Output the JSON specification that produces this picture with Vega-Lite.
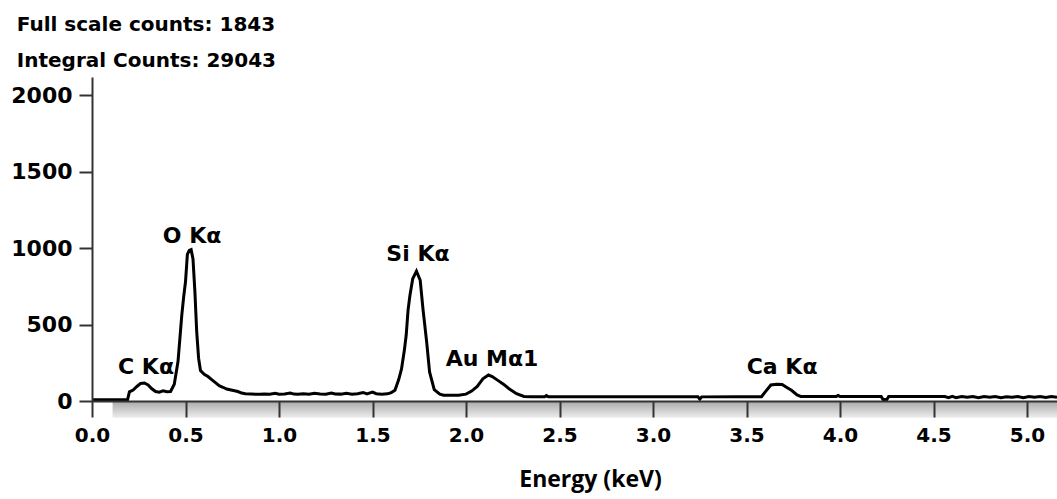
{
  "$schema": "https://vega.github.io/schema/vega-lite/v6.json",
  "autosize": {"type": "none"},
  "padding": {"left": 92, "top": 77, "right": 0, "bottom": 98},
  "width": 965,
  "height": 324,
  "background": "white",
  "config": {"view": {"stroke": null}, "font": "DejaVu Sans"},
  "title": {
    "text": "Full scale counts: 1843",
    "subtitle": "Integral Counts: 29043",
    "anchor": "start",
    "frame": "bounds",
    "font": "DejaVu Sans",
    "subtitleFont": "DejaVu Sans",
    "fontSize": 20,
    "subtitleFontSize": 20,
    "fontWeight": "bold",
    "subtitleFontWeight": "bold",
    "color": "black",
    "subtitleColor": "black",
    "dx": 6,
    "offset": 6,
    "subtitlePadding": 16
  },
  "datasets": {
    "spectrum": [
      {"keV": 0.0, "counts": 8}, {"keV": 0.1, "counts": 8}, {"keV": 0.19, "counts": 8},
      {"keV": 0.2, "counts": 60}, {"keV": 0.22, "counts": 72}, {"keV": 0.24, "counts": 95},
      {"keV": 0.26, "counts": 115}, {"keV": 0.28, "counts": 118}, {"keV": 0.3, "counts": 105},
      {"keV": 0.32, "counts": 80}, {"keV": 0.34, "counts": 62}, {"keV": 0.36, "counts": 58},
      {"keV": 0.38, "counts": 66}, {"keV": 0.4, "counts": 60}, {"keV": 0.42, "counts": 62},
      {"keV": 0.44, "counts": 110}, {"keV": 0.46, "counts": 260}, {"keV": 0.48, "counts": 560},
      {"keV": 0.49, "counts": 680}, {"keV": 0.5, "counts": 780}, {"keV": 0.51, "counts": 960},
      {"keV": 0.52, "counts": 985}, {"keV": 0.53, "counts": 990}, {"keV": 0.54, "counts": 930},
      {"keV": 0.55, "counts": 720}, {"keV": 0.56, "counts": 450}, {"keV": 0.57, "counts": 280},
      {"keV": 0.58, "counts": 200}, {"keV": 0.6, "counts": 175}, {"keV": 0.62, "counts": 160},
      {"keV": 0.64, "counts": 140}, {"keV": 0.66, "counts": 120}, {"keV": 0.68, "counts": 100},
      {"keV": 0.7, "counts": 90}, {"keV": 0.72, "counts": 78}, {"keV": 0.75, "counts": 70},
      {"keV": 0.78, "counts": 62}, {"keV": 0.8, "counts": 52}, {"keV": 0.82, "counts": 48},
      {"keV": 0.85, "counts": 46}, {"keV": 0.88, "counts": 44}, {"keV": 0.9, "counts": 44},
      {"keV": 0.92, "counts": 46}, {"keV": 0.95, "counts": 44}, {"keV": 0.98, "counts": 50},
      {"keV": 1.0, "counts": 44}, {"keV": 1.03, "counts": 46}, {"keV": 1.06, "counts": 52},
      {"keV": 1.08, "counts": 45}, {"keV": 1.1, "counts": 44}, {"keV": 1.13, "counts": 48},
      {"keV": 1.16, "counts": 44}, {"keV": 1.19, "counts": 50}, {"keV": 1.22, "counts": 46},
      {"keV": 1.25, "counts": 44}, {"keV": 1.28, "counts": 52}, {"keV": 1.3, "counts": 46},
      {"keV": 1.33, "counts": 45}, {"keV": 1.36, "counts": 50}, {"keV": 1.39, "counts": 44},
      {"keV": 1.42, "counts": 48}, {"keV": 1.45, "counts": 56}, {"keV": 1.47, "counts": 47},
      {"keV": 1.5, "counts": 58}, {"keV": 1.52, "counts": 48}, {"keV": 1.55, "counts": 45},
      {"keV": 1.58, "counts": 47}, {"keV": 1.6, "counts": 55}, {"keV": 1.62, "counts": 70},
      {"keV": 1.64, "counts": 140}, {"keV": 1.655, "counts": 210}, {"keV": 1.67, "counts": 330},
      {"keV": 1.68, "counts": 430}, {"keV": 1.69, "counts": 595}, {"keV": 1.7, "counts": 690},
      {"keV": 1.715, "counts": 800}, {"keV": 1.735, "counts": 850}, {"keV": 1.755, "counts": 790},
      {"keV": 1.77, "counts": 600}, {"keV": 1.79, "counts": 380}, {"keV": 1.805, "counts": 190},
      {"keV": 1.83, "counts": 75}, {"keV": 1.86, "counts": 45}, {"keV": 1.88, "counts": 38},
      {"keV": 1.92, "counts": 38}, {"keV": 1.96, "counts": 37}, {"keV": 2.0, "counts": 45},
      {"keV": 2.03, "counts": 65}, {"keV": 2.06, "counts": 95}, {"keV": 2.09, "counts": 145},
      {"keV": 2.12, "counts": 170}, {"keV": 2.14, "counts": 160}, {"keV": 2.17, "counts": 135},
      {"keV": 2.2, "counts": 110}, {"keV": 2.23, "counts": 80}, {"keV": 2.27, "counts": 48},
      {"keV": 2.31, "counts": 30}, {"keV": 2.35, "counts": 28}, {"keV": 2.42, "counts": 28},
      {"keV": 2.43, "counts": 36}, {"keV": 2.44, "counts": 28}, {"keV": 2.6, "counts": 27},
      {"keV": 2.8, "counts": 27}, {"keV": 3.0, "counts": 27}, {"keV": 3.24, "counts": 27},
      {"keV": 3.25, "counts": 12}, {"keV": 3.26, "counts": 27}, {"keV": 3.45, "counts": 28},
      {"keV": 3.58, "counts": 28}, {"keV": 3.6, "counts": 60}, {"keV": 3.63, "counts": 105},
      {"keV": 3.66, "counts": 110}, {"keV": 3.69, "counts": 108}, {"keV": 3.72, "counts": 85},
      {"keV": 3.74, "counts": 70}, {"keV": 3.77, "counts": 40}, {"keV": 3.79, "counts": 30},
      {"keV": 3.9, "counts": 30}, {"keV": 3.98, "counts": 30}, {"keV": 3.99, "counts": 36},
      {"keV": 4.0, "counts": 29}, {"keV": 4.22, "counts": 29}, {"keV": 4.23, "counts": 10},
      {"keV": 4.25, "counts": 10}, {"keV": 4.26, "counts": 29}, {"keV": 4.4, "counts": 29},
      {"keV": 4.56, "counts": 29}, {"keV": 4.58, "counts": 22}, {"keV": 4.6, "counts": 30},
      {"keV": 4.62, "counts": 22}, {"keV": 4.65, "counts": 30}, {"keV": 4.68, "counts": 24},
      {"keV": 4.71, "counts": 30}, {"keV": 4.74, "counts": 22}, {"keV": 4.77, "counts": 30},
      {"keV": 4.8, "counts": 24}, {"keV": 4.83, "counts": 30}, {"keV": 4.86, "counts": 22},
      {"keV": 4.89, "counts": 28}, {"keV": 4.92, "counts": 24}, {"keV": 4.95, "counts": 30},
      {"keV": 4.98, "counts": 22}, {"keV": 5.01, "counts": 30}, {"keV": 5.04, "counts": 24},
      {"keV": 5.07, "counts": 30}, {"keV": 5.1, "counts": 23}, {"keV": 5.13, "counts": 29},
      {"keV": 5.16, "counts": 25}
    ],
    "labels": [
      {"label": "C Kα", "keV": 0.289, "counts": 220},
      {"label": "O Kα", "keV": 0.535, "counts": 1078},
      {"label": "Si Kα", "keV": 1.743, "counts": 960},
      {"label": "Au Mα1", "keV": 2.139, "counts": 273},
      {"label": "Ca Kα", "keV": 3.69, "counts": 220}
    ],
    "band": [
      {"x0": 0.11, "x1": 5.16, "y0": 0, "y1": -110}
    ]
  },
  "layer": [
    {
      "data": {"name": "band"},
      "mark": {
        "type": "rect",
        "fill": {
          "gradient": "linear",
          "x1": 0, "y1": 0, "x2": 0, "y2": 1,
          "stops": [
            {"offset": 0, "color": "#a8a8a8"},
            {"offset": 1, "color": "#eeeeee"}
          ]
        }
      },
      "encoding": {
        "x": {"field": "x0", "type": "quantitative"},
        "x2": {"field": "x1"},
        "y": {"field": "y0", "type": "quantitative"},
        "y2": {"field": "y1"}
      }
    },
    {
      "data": {"name": "spectrum"},
      "mark": {"type": "line", "color": "black", "strokeWidth": 3, "strokeJoin": "miter"},
      "encoding": {
        "x": {
          "field": "keV",
          "type": "quantitative",
          "scale": {"domain": [0, 5.16], "nice": false, "zero": false},
          "axis": {
            "title": "Energy (keV)",
            "values": [0, 0.5, 1, 1.5, 2, 2.5, 3, 3.5, 4, 4.5, 5],
            "format": ".1f",
            "grid": false,
            "zindex": 1,
            "domainColor": "#333333",
            "domainWidth": 2,
            "tickColor": "#333333",
            "tickWidth": 2,
            "tickSize": 16,
            "labelPadding": 8,
            "labelFont": "DejaVu Sans",
            "labelFontSize": 20,
            "labelFontWeight": "bold",
            "labelColor": "black",
            "labelFlush": false,
            "labelOverlap": false,
            "titleFont": "Open Sans",
            "titleFontSize": 23,
            "titleFontWeight": "bold",
            "titleColor": "black",
            "titlePadding": 23,
            "titleX": 498
          }
        },
        "y": {
          "field": "counts",
          "type": "quantitative",
          "scale": {"domain": [0, 2120], "nice": false},
          "axis": {
            "title": null,
            "values": [0, 500, 1000, 1500, 2000],
            "format": "d",
            "grid": false,
            "zindex": 1,
            "domainColor": "#333333",
            "domainWidth": 2,
            "tickColor": "#333333",
            "tickWidth": 2,
            "tickSize": 13,
            "labelPadding": 7,
            "labelFont": "DejaVu Sans",
            "labelFontSize": 22,
            "labelFontWeight": "bold",
            "labelColor": "black",
            "labelFlush": false,
            "labelOverlap": false
          }
        }
      }
    },
    {
      "data": {"name": "labels"},
      "mark": {"type": "text", "font": "DejaVu Sans", "fontSize": 22, "fontWeight": "bold", "color": "black", "baseline": "middle", "align": "center"},
      "encoding": {
        "x": {"field": "keV", "type": "quantitative"},
        "y": {"field": "counts", "type": "quantitative"},
        "text": {"field": "label"}
      }
    }
  ]
}
